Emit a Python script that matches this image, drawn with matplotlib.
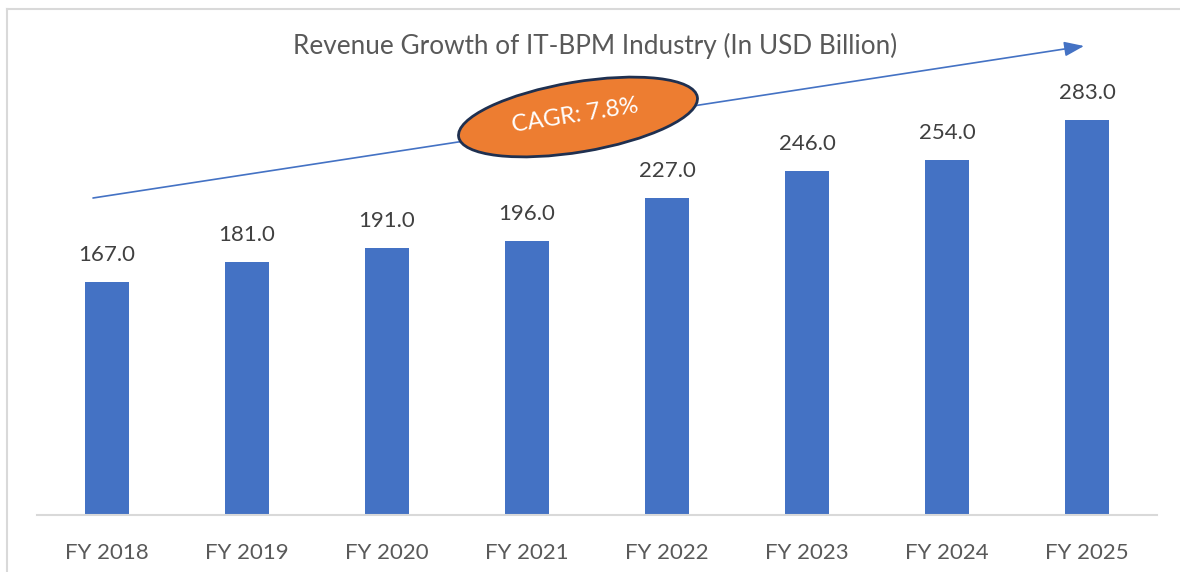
import matplotlib
matplotlib.use("Agg")
import matplotlib.pyplot as plt
from matplotlib.patches import Ellipse
from matplotlib.lines import Line2D

plt.rcParams['font.family'] = ['Lato', 'DejaVu Sans']

categories = ["FY 2018", "FY 2019", "FY 2020", "FY 2021", "FY 2022", "FY 2023", "FY 2024", "FY 2025"]
revenue = [167.0, 181.0, 191.0, 196.0, 227.0, 246.0, 254.0, 283.0]
title = "Revenue Growth of IT-BPM Industry (In USD Billion)"
cagr_label = "CAGR: 7.8%"

W, H = 1180, 572
fig = plt.figure(figsize=(W / 100, H / 100), dpi=100)
fig.patch.set_facecolor("white")

ax_left, ax_right, ax_bottom, ax_top = 37, 1157, 515, 40
ax = fig.add_axes([ax_left / W, (H - ax_bottom) / H, (ax_right - ax_left) / W, (ax_bottom - ax_top) / H])
x = list(range(len(categories)))
ax.bar(x, revenue, width=0.314, color="#4472C4", zorder=2)
ax.set_xlim(-0.5, len(categories) - 0.5)
ax.set_ylim(0, (ax_bottom - ax_top) / 1.397)
for s in ["top", "right", "left"]:
    ax.spines[s].set_visible(False)
ax.spines["bottom"].set_color("#D9D9D9")
ax.spines["bottom"].set_linewidth(1.5)
ax.set_yticks([])
ax.set_xticks(x)
ax.set_xticklabels(categories, fontsize=16, color="#595959")
ax.tick_params(axis="x", length=0, pad=20)
for xi, v in zip(x, revenue):
    ax.annotate(f"{v:.1f}", (xi, v), xytext=(0, 17), textcoords="offset pixels",
                ha="center", va="bottom", fontsize=16, color="#404040")

# overlay in pixel coordinates
ov = fig.add_axes([0, 0, 1, 1], zorder=5)
ov.set_xlim(0, W)
ov.set_ylim(H, 0)
ov.axis("off")
ov.patch.set_alpha(0)

# border (left and top)
ov.add_line(Line2D([7, 7], [9, H], color="#D9D9D9", lw=1.5))
ov.add_line(Line2D([7, W], [9, 9], color="#D9D9D9", lw=1.5))

ov.text(595, 46, title, ha="center", va="center", fontsize=18.8, color="#595959")

ov.annotate("", xy=(1084, 46), xytext=(93, 198),
            arrowprops=dict(arrowstyle="-|>,head_length=1.2,head_width=0.45",
                            color="#4472C4", lw=1.2, shrinkA=0, shrinkB=0))

ell = Ellipse((578, 117), width=242, height=70, angle=-9.5,
              facecolor="#ED7D31", edgecolor="#1F3050", lw=2, zorder=6)
ov.add_patch(ell)
ov.text(575, 116, cagr_label, ha="center", va="center", rotation=9,
        fontsize=17, color="white", zorder=7)

fig.savefig("out.png", dpi=100)
